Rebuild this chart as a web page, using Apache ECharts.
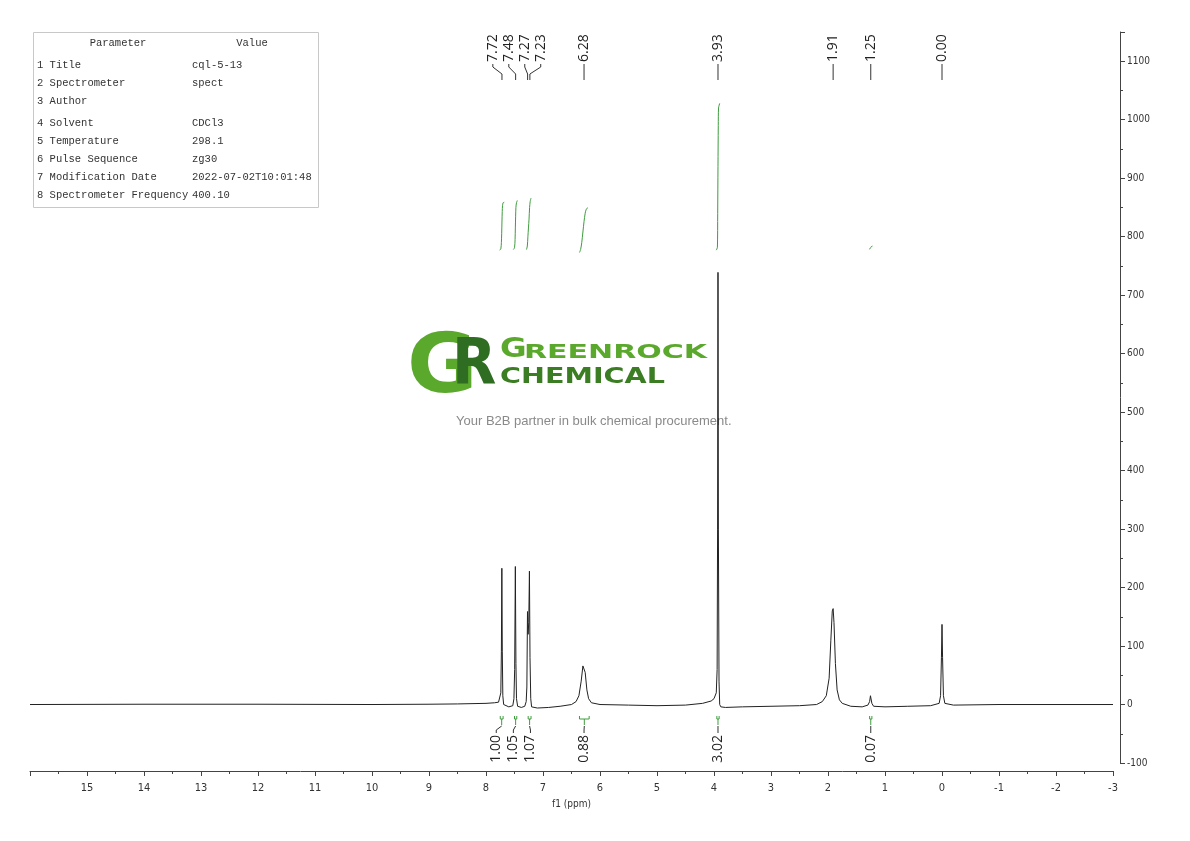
<!DOCTYPE html>
<html>
<head>
<meta charset="utf-8">
<script src="https://cdn.jsdelivr.net/npm/echarts@6/dist/echarts.min.js"></script>
<style>html,body{margin:0;padding:0;background:#fff}#c{width:1190px;height:841px}</style>
</head>
<body>
<div id="c"></div>
<script>
// ---- spectrum (ppm, intensity) ----
const spectrum = [
  [16, 0], [14, 0.5], [12, 0.5], [10, 0], [9, 0.5], [8.5, 1], [8, 2], [7.85, 3], [7.78, 4],
  [7.75, 6], [7.74, 20], [7.73, 90], [7.722, 233], [7.714, 90], [7.705, 15], [7.69, 0], [7.67, -3],
  [7.6, -4], [7.53, -2], [7.51, 10], [7.497, 60], [7.485, 236], [7.475, 70], [7.465, 10], [7.445, -3],
  [7.38, -5], [7.32, -3], [7.295, 5], [7.283, 30], [7.272, 159], [7.262, 120], [7.25, 140], [7.238, 228],
  [7.228, 80], [7.215, 10], [7.20, -4], [7.1, -6], [6.9, -5], [6.7, -3], [6.5, 0], [6.42, 5],
  [6.37, 15], [6.33, 40], [6.30, 66], [6.28, 68], [6.26, 55], [6.23, 25], [6.2, 10], [6.15, 3],
  [6.0, 0], [5.5, -1], [5.0, -2], [4.5, -1], [4.2, 2], [4.05, 6], [4.0, 10], [3.96, 20],
  [3.945, 60], [3.937, 300], [3.93, 739], [3.923, 300], [3.912, 40], [3.90, 0], [3.88, -4], [3.8, -5],
  [3.5, -4], [3.0, -3], [2.5, -2], [2.2, 0], [2.1, 5], [2.03, 15], [1.98, 45], [1.95, 110],
  [1.925, 160], [1.91, 164], [1.895, 140], [1.87, 70], [1.84, 25], [1.8, 8], [1.75, 2], [1.6, -3],
  [1.4, -4], [1.3, -1], [1.27, 5], [1.255, 15], [1.245, 12], [1.23, 2], [1.2, -3], [1.0, -4],
  [0.6, -3], [0.2, -2], [0.05, 2], [0.025, 15], [0.01, 80], [0.0, 137], [-0.01, 80], [-0.025, 15],
  [-0.05, 2], [-0.2, -1], [-1, 0], [-3, 0]
];

// ---- integral curves ----
const integral1 = [[7.76,777],[7.74,779],[7.73,790],[7.725,805],[7.72,825],[7.715,843],[7.71,853],[7.70,858],[7.68,859]];
const integral2 = [[7.52,778],[7.50,781],[7.49,795],[7.485,815],[7.48,835],[7.475,850],[7.465,858],[7.45,862]];
const integral3 = [[7.29,778],[7.275,784],[7.265,800],[7.255,815],[7.245,830],[7.235,850],[7.225,860],[7.21,866]];
const integral4 = [[6.36,773],[6.34,778],[6.32,790],[6.30,808],[6.28,826],[6.26,840],[6.24,847],[6.21,850]];
const integral5 = [[3.96,777],[3.94,782],[3.935,840],[3.93,920],[3.925,990],[3.92,1020],[3.90,1028]];
const integral6 = [[1.28,778],[1.26,780],[1.24,783],[1.22,784]];

// ---- peak labels ----
const peakValues   = ['7.72', '7.48', '7.27', '7.23', '6.28', '3.93', '1.91', '1.25', '0.00'];
const peakPpm      = [7.72, 7.48, 7.27, 7.23, 6.28, 3.93, 1.91, 1.25, 0.00];
const peakLabelPpm = [7.88, 7.60, 7.32, 7.04, 6.28, 3.93, 1.91, 1.25, 0.00];

// ---- integral labels ----
const integralValues   = ['1.00', '1.05', '1.07', '0.88', '3.02', '0.07'];
const integralFrom     = [7.75, 7.50, 7.26, 6.36, 3.95, 1.27];
const integralTo       = [7.70, 7.46, 7.21, 6.19, 3.91, 1.23];
const integralLabelPpm = [7.82, 7.52, 7.22, 6.28, 3.93, 1.25];

// ---- parameter table ----
const tableHeader = ['Parameter', 'Value'];
const tableParams = ['1 Title', '2 Spectrometer', '3 Author', '4 Solvent', '5 Temperature', '6 Pulse Sequence', '7 Modification Date', '8 Spectrometer Frequency'];
const tableValues = ['cql-5-13', 'spect', '', 'CDCl3', '298.1', 'zg30', '2022-07-02T10:01:48', '400.10'];

const chart = echarts.init(document.getElementById('c'));
const GREEN = '#3f9c3f';
const narrowFont = '"Liberation Sans Narrow", "DejaVu Sans Condensed", "Roboto Condensed", sans-serif';

function peakLabelItem(params, api) {
  const i = params.dataIndex;
  const lx = api.coord([api.value(0), 0])[0];
  const px = api.coord([api.value(1), 0])[0];
  return {
    type: 'group',
    children: [
      { type: 'text', x: lx, y: 62, rotation: Math.PI / 2,
        style: { text: peakValues[i], align: 'left', verticalAlign: 'middle',
                 font: '14px "Open Sans", sans-serif', fill: '#222' } },
      { type: 'polyline', shape: { points: [[lx, 64], [lx, 67], [px, 74], [px, 80]] },
        style: { stroke: '#333', lineWidth: 1, fill: null } }
    ]
  };
}

function integralLabelItem(params, api) {
  const i = params.dataIndex;
  const tx = api.coord([api.value(0), 0])[0];
  const a = api.coord([api.value(1), 0])[0];
  const b = api.coord([api.value(2), 0])[0];
  const m = (a + b) / 2;
  return {
    type: 'group',
    children: [
      { type: 'polyline', shape: { points: [[a, 716], [a, 719], [b, 719], [b, 716]] },
        style: { stroke: GREEN, lineWidth: 1, fill: null } },
      { type: 'line', shape: { x1: m, y1: 719, x2: m, y2: 725 }, style: { stroke: GREEN, lineWidth: 1 } },
      { type: 'polyline', shape: { points: [[m, 726], [tx, 730], [tx, 733]] },
        style: { stroke: '#333', lineWidth: 1, fill: null } },
      { type: 'text', x: tx, y: 735, rotation: Math.PI / 2,
        style: { text: integralValues[i], align: 'right', verticalAlign: 'middle',
                 font: '14px "Open Sans", sans-serif', fill: '#222' } }
    ]
  };
}

const integralSeries = [integral1, integral2, integral3, integral4, integral5, integral6].map(d => ({
  type: 'line', data: d, symbol: 'none', smooth: 0.3, silent: true,
  lineStyle: { color: GREEN, width: 1 }, z: 3
}));

// table graphic
const rowY = [65, 83, 101, 123, 141, 159, 177, 195];
const tableFont = '10.5px "Liberation Mono", "DejaVu Sans Mono", monospace';
const tableChildren = [
  { type: 'rect', shape: { x: 33.5, y: 32.5, width: 285, height: 175 },
    style: { fill: '#fff', stroke: '#c8c8c8', lineWidth: 1 } },
  { type: 'text', x: 118, y: 43, style: { text: tableHeader[0], font: tableFont, fill: '#333', align: 'center', verticalAlign: 'middle' } },
  { type: 'text', x: 252, y: 43, style: { text: tableHeader[1], font: tableFont, fill: '#333', align: 'center', verticalAlign: 'middle' } }
];
tableParams.forEach((p, i) => {
  tableChildren.push({ type: 'text', x: 37, y: rowY[i], style: { text: p, font: tableFont, fill: '#333', align: 'left', verticalAlign: 'middle' } });
  tableChildren.push({ type: 'text', x: 192, y: rowY[i], style: { text: tableValues[i], font: tableFont, fill: '#333', align: 'left', verticalAlign: 'middle' } });
});

const logoFont = '"DejaVu Sans", sans-serif';
const watermark = {
  type: 'group', z: 0, silent: true,
  children: [
    { type: 'text', x: 407, y: 371, scaleX: 1.05, style: { text: 'G', font: 'bold 82px ' + logoFont, fill: '#5aa82c', align: 'left', verticalAlign: 'middle' } },
    { type: 'text', x: 452, y: 367, scaleX: 0.9, style: { text: 'R', font: 'bold 64px ' + logoFont, fill: '#2f6d22', align: 'left', verticalAlign: 'middle' } },
    { type: 'text', x: 500, y: 363, scaleX: 1.25, style: { text: 'G', font: 'bold 26px ' + logoFont, fill: '#5aa82c', align: 'left', verticalAlign: 'bottom' } },
    { type: 'text', x: 524, y: 363, scaleX: 1.5, style: { text: 'REENROCK', font: 'bold 20px ' + logoFont, fill: '#5aa82c', align: 'left', verticalAlign: 'bottom' } },
    { type: 'text', x: 500, y: 388, scaleX: 1.3, style: { text: 'CHEMICAL', font: 'bold 22px ' + logoFont, fill: '#3b7d23', align: 'left', verticalAlign: 'bottom' } },
    { type: 'text', x: 456, y: 421, style: { text: 'Your B2B partner in bulk chemical procurement.', font: '13px "Liberation Sans", Arial, sans-serif', fill: '#8a8a8a', align: 'left', verticalAlign: 'middle' } }
  ]
};

chart.setOption({
  animation: false,
  backgroundColor: '#fff',
  grid: { left: 30, right: 77, top: 32, bottom: 78, containLabel: false },
  xAxis: {
    type: 'value', inverse: true, min: -3, max: 16, interval: 1, offset: 8,
    axisLine: { show: true, onZero: false, lineStyle: { color: '#444', width: 1 } },
    axisTick: { show: true, length: 5, lineStyle: { color: '#444' } },
    minorTick: { show: true, splitNumber: 2, length: 3, lineStyle: { color: '#444' } },
    splitLine: { show: false },
    axisLabel: { margin: 12, color: '#333', fontSize: 11, fontFamily: narrowFont, showMaxLabel: false },
    name: 'f1 (ppm)', nameLocation: 'middle', nameGap: 28,
    nameTextStyle: { color: '#333', fontSize: 10, fontFamily: narrowFont }
  },
  yAxis: {
    type: 'value', position: 'right', min: -100, max: 1150, interval: 100, offset: 7,
    axisLine: { show: true, onZero: false, lineStyle: { color: '#444', width: 1 } },
    axisTick: { show: true, length: 5, lineStyle: { color: '#444' } },
    minorTick: { show: true, splitNumber: 2, length: 3, lineStyle: { color: '#444' } },
    splitLine: { show: false },
    axisLabel: { margin: 7, color: '#333', fontSize: 10, fontFamily: narrowFont, showMaxLabel: false,
                 formatter: v => (v % 100 === 0 ? String(v) : '') }
  },
  graphic: [watermark, { type: 'group', z: 100, children: tableChildren }],
  series: [
    { type: 'line', data: spectrum, symbol: 'none', silent: true, sampling: null,
      lineStyle: { color: '#222', width: 1 }, z: 4 },
    ...integralSeries,
    { type: 'custom', coordinateSystem: 'cartesian2d', renderItem: peakLabelItem, silent: true,
      data: peakLabelPpm.map((v, i) => [v, peakPpm[i]]), z: 5, clip: false },
    { type: 'custom', coordinateSystem: 'cartesian2d', renderItem: integralLabelItem, silent: true,
      data: integralLabelPpm.map((v, i) => [v, integralFrom[i], integralTo[i]]), z: 5, clip: false }
  ]
});
</script>
</body>
</html>
